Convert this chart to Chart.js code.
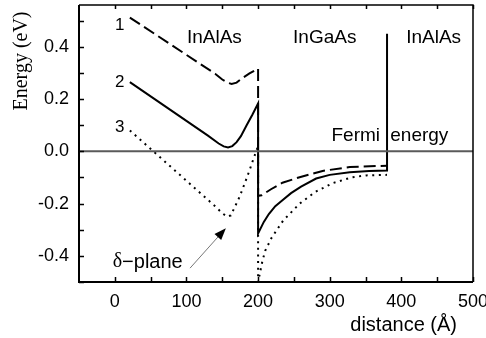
<!DOCTYPE html>
<html>
<head>
<meta charset="utf-8">
<script src="https://cdn.jsdelivr.net/npm/chart.js@4"></script>
<style>
  html, body { margin: 0; padding: 0; background: #fff; }
  #wrap { width: 486px; height: 338px; }
</style>
</head>
<body>
<div id="wrap"><canvas id="chart-0"></canvas></div>
<script>
  // curve 1 (dashed)
  var curve1X = [21, 140, 150, 157, 163, 170, 178, 188, 200, 200, 205, 218, 234, 258, 290, 328, 380];
  var curve1Y = [0.512, 0.297, 0.275, 0.263, 0.258, 0.263, 0.28, 0.298, 0.317, -0.17, -0.168, -0.145, -0.12, -0.099, -0.075, -0.06, -0.055];
  // curve 2 (solid)
  var curve2X = [21, 130, 145, 152, 158, 164, 170, 176, 184, 192, 200, 200, 208, 215, 224, 234, 246, 260, 281, 300, 328, 355, 380, 380];
  var curve2Y = [0.265, 0.06, 0.03, 0.019, 0.015, 0.02, 0.035, 0.058, 0.1, 0.14, 0.183, -0.314, -0.27, -0.24, -0.21, -0.187, -0.16, -0.135, -0.104, -0.09, -0.08, -0.075, -0.073, 0.45];
  // curve 3 (dotted)
  var curve3X = [21, 140, 150, 157, 162, 168, 174, 181, 188, 194, 200, 200, 203, 206, 210, 219, 235, 258, 280, 304, 330, 351, 380];
  var curve3Y = [0.08, -0.21, -0.237, -0.25, -0.245, -0.21, -0.175, -0.125, -0.073, -0.025, 0.02, -0.5, -0.46, -0.42, -0.38, -0.33, -0.265, -0.2, -0.155, -0.122, -0.1, -0.092, -0.09];
  // Fermi level
  var fermiX = [-50, 500];
  var fermiY = [0, 0];

  var xTicks = [0, 100, 200, 300, 400, 500];
  var xMinor = [50, 150, 250, 350, 450];
  var yTicks = [-0.4, -0.2, 0, 0.2, 0.4];
  var yMinor = [-0.5, -0.3, -0.1, 0.1, 0.3, 0.5];

  var regionLabels = ['InAlAs', 'InGaAs', 'InAlAs'];
  var regionX = [139, 293, 445];
  var curveNames = ['1', '2', '3'];
  var curveNameY = [0.482, 0.264, 0.092];

  var sans = '"Liberation Sans", Arial, sans-serif';
  var serif = '"Liberation Serif", "Times New Roman", serif';

  function zip(xs, ys) {
    return xs.map(function(x, i) { return {x: x, y: ys[i]}; });
  }

  function line(label, xs, ys, color, width, dash) {
    return {
      label: label,
      data: zip(xs, ys),
      borderColor: color,
      borderWidth: width,
      borderDash: dash,
      borderCapStyle: 'butt',
      pointRadius: 0,
      fill: false,
      tension: 0
    };
  }

  var annotations = {
    id: 'annotations',
    afterDatasetsDraw: function(chart) {
      var ctx = chart.ctx, a = chart.chartArea;
      var xs = chart.scales.x, ys = chart.scales.y;
      var px = function(v) { return xs.getPixelForValue(v); };
      var py = function(v) { return ys.getPixelForValue(v); };
      ctx.save();

      // frame
      ctx.strokeStyle = '#000';
      ctx.lineWidth = 1.5;
      ctx.beginPath();
      ctx.moveTo(a.left, a.top); ctx.lineTo(a.right, a.top); ctx.lineTo(a.right, a.bottom);
      ctx.stroke();
      ctx.lineWidth = 2;
      ctx.beginPath();
      ctx.moveTo(a.left, a.top); ctx.lineTo(a.left, a.bottom); ctx.lineTo(a.right, a.bottom);
      ctx.stroke();

      // inward ticks
      ctx.lineWidth = 1.5;
      ctx.beginPath();
      xTicks.concat(xMinor).forEach(function(v) {
        var x = Math.round(px(v)) + 0.5;
        ctx.moveTo(x, a.bottom); ctx.lineTo(x, a.bottom - 5);
        ctx.moveTo(x, a.top); ctx.lineTo(x, a.top + 4);
      });
      yTicks.concat(yMinor).forEach(function(v) {
        var y = Math.round(py(v)) + 0.5;
        ctx.moveTo(a.left, y); ctx.lineTo(a.left + 5, y);
      });
      ctx.stroke();

      ctx.fillStyle = '#000';
      ctx.textBaseline = 'middle';

      // region names
      ctx.font = '19px ' + sans;
      ctx.textAlign = 'center';
      regionLabels.forEach(function(t, i) {
        ctx.fillText(t, px(regionX[i]), py(0.436));
      });

      // Fermi energy
      ctx.textAlign = 'left';
      ctx.fillText('Fermi', px(302.5), py(0.061));
      ctx.fillText('energy', px(384.5), py(0.061));

      // curve numbers
      ctx.font = '17px ' + sans;
      ctx.textAlign = 'center';
      curveNames.forEach(function(t, i) {
        ctx.fillText(t, px(7), curveNameY[i] === undefined ? 0 : py(curveNameY[i]));
      });

      // delta-plane label
      ctx.textAlign = 'left';
      var lx = px(-3), ly = py(-0.424);
      ctx.font = '20px ' + serif;
      ctx.fillText('\u03B4', lx, ly);
      var dw = ctx.measureText('\u03B4').width;
      ctx.font = '20px ' + sans;
      ctx.fillText('\u2212plane', lx + dw, ly);

      // arrow
      var x0 = px(105), y0 = py(-0.447), x1 = px(155), y1 = py(-0.294);
      var ang = Math.atan2(y1 - y0, x1 - x0);
      ctx.strokeStyle = '#777';
      ctx.lineWidth = 1;
      ctx.beginPath();
      ctx.moveTo(x0, y0);
      ctx.lineTo(x1 - 9 * Math.cos(ang), y1 - 9 * Math.sin(ang));
      ctx.stroke();
      ctx.fillStyle = '#000';
      ctx.beginPath();
      ctx.moveTo(x1, y1);
      ctx.lineTo(x1 - 12 * Math.cos(ang) + 4.5 * Math.sin(ang), y1 - 12 * Math.sin(ang) - 4.5 * Math.cos(ang));
      ctx.lineTo(x1 - 12 * Math.cos(ang) - 4.5 * Math.sin(ang), y1 - 12 * Math.sin(ang) + 4.5 * Math.cos(ang));
      ctx.closePath();
      ctx.fill();

      // axis titles
      ctx.font = '20px ' + sans;
      ctx.textAlign = 'right';
      ctx.fillText('distance (\u00C5)', a.right - 16, 325);

      ctx.translate(22, 61);
      ctx.rotate(-Math.PI / 2);
      ctx.font = '20px ' + serif;
      ctx.textAlign = 'center';
      ctx.fillText('Energy (eV)', 0, 0);

      ctx.restore();
    }
  };

  var tickFont = {family: sans, size: 18};

  var chart = new Chart('chart-0', {
    type: 'line',
    data: {
      datasets: [
        line('Fermi', fermiX, fermiY, '#5a5a5a', 2, []),
        line('1', curve1X, curve1Y, '#000', 2, [12, 5]),
        line('2', curve2X, curve2Y, '#000', 2, []),
        line('3', curve3X, curve3Y, '#000', 2, [2, 4.6])
      ]
    },
    options: {
      responsive: true,
      maintainAspectRatio: false,
      animation: false,
      layout: { padding: {top: 5, right: 13, left: 0, bottom: 0} },
      plugins: { legend: { display: false }, tooltip: { enabled: false } },
      scales: {
        x: {
          type: 'linear',
          min: -50,
          max: 500,
          afterBuildTicks: function(s) { s.ticks = xTicks.map(function(v) { return {value: v}; }); },
          afterFit: function(s) { s.height = 56; s.paddingLeft = 0; s.paddingRight = 0; },
          ticks: { font: tickFont, color: '#000', padding: 9, maxRotation: 0, autoSkip: false,
                   callback: function(v) { return String(v); } },
          grid: { display: false, drawTicks: false },
          border: { display: false }
        },
        y: {
          type: 'linear',
          min: -0.5,
          max: 0.56,
          afterBuildTicks: function(s) { s.ticks = yTicks.map(function(v) { return {value: v}; }); },
          afterFit: function(s) { s.width = 79; s.paddingTop = 0; s.paddingBottom = 0; },
          ticks: { font: tickFont, color: '#000', padding: 10, autoSkip: false,
                   callback: function(v) { return v.toFixed(1); } },
          grid: { display: false, drawTicks: false },
          border: { display: false }
        }
      }
    },
    plugins: [annotations]
  });
</script>
</body>
</html>
